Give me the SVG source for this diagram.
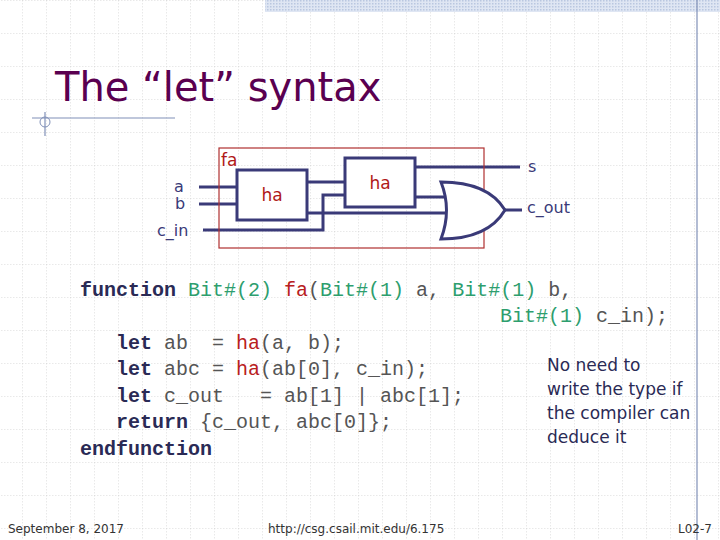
<svg xmlns="http://www.w3.org/2000/svg" width="720" height="540" viewBox="0 0 720 540">
<defs>
<pattern id="grid" x="22" y="33" width="24" height="33" patternUnits="userSpaceOnUse">
<path d="M0 0V33M0 0H24" stroke="#c8c8c8" stroke-width="0.8" stroke-dasharray="1.5 1.5" fill="none"/>
</pattern>
<pattern id="hatch" width="3" height="3" patternUnits="userSpaceOnUse">
<rect width="3" height="3" fill="#dfe6f3"/><rect width="1.5" height="1.5" fill="#b9c7e0"/>
</pattern>
<style>
.w{stroke:#3a3a78;stroke-width:3;fill:none}
.box{stroke:#3a3a78;stroke-width:3;fill:#fff}
.lbl{font-family:"DejaVu Sans",sans-serif;font-size:16px;fill:#3a3a78}
.red{font-family:"DejaVu Sans",sans-serif;font-size:17px;fill:#b01818}
.code{font-family:"Liberation Mono",monospace;font-size:20px;fill:#555}
.kw{font-weight:bold;fill:#2a2a55}
.ty{fill:#2e9e6e}
.fn{fill:#b82020}
.foot{font-family:"DejaVu Sans",sans-serif;font-size:12px;fill:#333}
</style>
</defs>
<rect width="720" height="540" fill="#fff"/>
<rect width="720" height="540" fill="url(#grid)"/>
<rect x="265" y="0" width="455" height="12" fill="url(#hatch)"/>
<line x1="697" y1="0" x2="697" y2="540" stroke="#8090b8" stroke-width="1.2"/>
<text x="55" y="101" font-family="DejaVu Sans,sans-serif" font-size="40" fill="#5a0050">The “let” syntax</text>
<line x1="32" y1="118" x2="175" y2="118" stroke="#8090b8" stroke-width="1.2"/>
<line x1="45" y1="112" x2="45" y2="136" stroke="#8090b8" stroke-width="1.2"/>
<circle cx="45" cy="122" r="5" fill="none" stroke="#8090b8" stroke-width="1"/>

<g id="connectors">
<path class="w" d="M199 187H237M199 204H237M203 230H323V195H345M307 182H345M307 213H445M415 167H520M415 197H445M505 210H522"/>
</g>
<g id="fa"><rect x="219" y="148" width="265" height="100" fill="none" stroke="#b03030" stroke-width="1.2"/><text class="red" x="221" y="166">fa</text></g>
<g id="ha1"><rect class="box" x="237" y="170" width="70" height="50"/><text class="red" x="272" y="201" text-anchor="middle">ha</text></g>
<g id="ha2"><rect class="box" x="345" y="158" width="70" height="49"/><text class="red" x="380" y="189" text-anchor="middle">ha</text></g>
<g id="or"><path class="box" d="M441 182Q452 210 441 239Q488 239 505 210Q488 182 441 182Z"/></g>
<g id="labels">
<text class="lbl" x="179" y="192" text-anchor="middle">a</text>
<text class="lbl" x="180" y="209" text-anchor="middle">b</text>
<text class="lbl" x="157" y="236">c_in</text>
<text class="lbl" x="528" y="172">s</text>
<text class="lbl" x="527" y="213">c_out</text>
</g>

<g id="code" class="code">
<text x="80" y="296"><tspan class="kw">function</tspan> <tspan class="ty">Bit#(2)</tspan> <tspan class="fn">fa</tspan>(<tspan class="ty">Bit#(1)</tspan> a, <tspan class="ty">Bit#(1)</tspan> b,</text>
<text x="500" y="322"><tspan class="ty">Bit#(1)</tspan> c_in);</text>
<text x="116" y="349"><tspan class="kw">let</tspan> ab&#160; = <tspan class="fn">ha</tspan>(a, b);</text>
<text x="116" y="375"><tspan class="kw">let</tspan> abc = <tspan class="fn">ha</tspan>(ab[0], c_in);</text>
<text x="116" y="402"><tspan class="kw">let</tspan> c_out&#160;&#160;&#160;= ab[1] | abc[1];</text>
<text x="116" y="428"><tspan class="kw">return</tspan> {c_out, abc[0]};</text>
<text x="80" y="455"><tspan class="kw">endfunction</tspan></text>
</g>
<g id="note" font-family="DejaVu Sans,sans-serif" font-size="17" fill="#2a2a55">
<text x="547" y="371">No need to</text>
<text x="547" y="395">write the type if</text>
<text x="547" y="419">the compiler can</text>
<text x="547" y="443">deduce it</text>
</g>
<text class="foot" x="8" y="533">September 8, 2017</text>
<text class="foot" x="268" y="533">http://csg.csail.mit.edu/6.175</text>
<text class="foot" x="678" y="533">L02-7</text>
</svg>
